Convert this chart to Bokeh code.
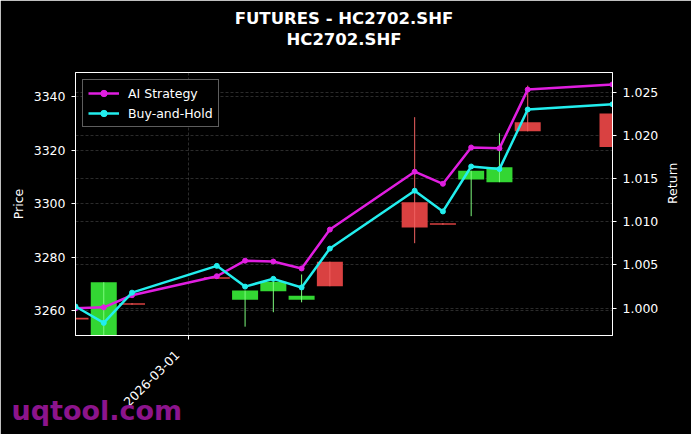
import math
import pandas as pd
from bokeh.plotting import figure
from bokeh.models import (ColumnDataSource, Range1d, LinearAxis, FixedTicker,
                          DatetimeTickFormatter, Grid, Title,
                          PrintfTickFormatter)
from bokeh.embed import file_html
from bokeh.resources import INLINE

# ---- data ----
dates = ["2026-02-25", "2026-02-26", "2026-02-27", "2026-03-02", "2026-03-03",
         "2026-03-04", "2026-03-05", "2026-03-06", "2026-03-09", "2026-03-10",
         "2026-03-11", "2026-03-12", "2026-03-13", "2026-03-16"]
open_p = [3257.3, 3249.0, 3262.8, 3272.5, 3264.1, 3267.2, 3264.1, 3278.3,
          3300.5, 3292.7, 3309.0, 3308.0, 3330.4, 3333.7]
close_p = [3256.7, 3270.6, 3262.2, 3271.9, 3267.5, 3270.8, 3265.6, 3269.1,
           3291.1, 3292.1, 3312.3, 3313.6, 3327.0, 3321.2]
high_p = [3257.3, 3270.6, 3262.8, 3272.5, 3267.5, 3271.0, 3273.5, 3278.3,
          3332.3, 3292.7, 3312.3, 3326.3, 3344.1, 3333.7]
low_p = [3256.7, 3247.0, 3262.2, 3271.9, 3254.0, 3259.4, 3263.1, 3269.1,
         3285.2, 3292.1, 3295.3, 3308.0, 3327.0, 3321.2]
ai_ret = [1.0000, 1.0001, 1.0015, 1.0037, 1.0055, 1.0054, 1.0046, 1.0091,
          1.0158, 1.0144, 1.0186, 1.0185, 1.0253, 1.0259]
bh_ret = [1.0002, 0.9983, 1.0018, 1.0049, 1.0025, 1.0034, 1.0024, 1.0069,
          1.0136, 1.0112, 1.0164, 1.0161, 1.0230, 1.0236]
price_ticks = [3260, 3280, 3300, 3320, 3340]
ret_ticks = [1.000, 1.005, 1.010, 1.015, 1.020, 1.025]
x_tick_dates = ["2026-03-01"]
title_lines = ["FUTURES - HC2702.SHF", "HC2702.SHF"]
watermark = "uqtool.com"

FONT = "DejaVu Sans"
dt = pd.to_datetime(dates)
inc = [c > o for o, c in zip(open_p, close_p)]
GREEN = "#33d633"
RED = "#d94141"
src = ColumnDataSource(dict(
    x=dt, top=[max(o, c) for o, c in zip(open_p, close_p)],
    bottom=[min(o, c) for o, c in zip(open_p, close_p)],
    high=high_p, low=low_p,
    fill=[GREEN if i else RED for i in inc],
    wick=["#7dfa7d" if i else "#f06060" for i in inc],
    ai=ai_ret, bh=bh_ret))

p = figure(width=691, height=434, x_axis_type="datetime",
           x_range=Range1d(dt[0], dt[-1]), y_range=Range1d(3250.7, 3349.0),
           output_backend="svg", toolbar_location=None,
           min_border_left=75, min_border_right=79, min_border_top=72,
           min_border_bottom=99)
p.extra_y_ranges = {"ret": Range1d(0.99684, 1.02728)}
p.background_fill_color = "black"
p.border_fill_color = "black"
p.outline_line_color = "white"
p.outline_line_width = 1

# candles
day_ms = 86400000
p.vbar(x="x", width=0.92 * day_ms, top="top", bottom="bottom", source=src,
       fill_color="fill", line_color=None)
p.segment(x0="x", x1="x", y0="low", y1="high", source=src, line_color="wick",
          line_width=1)

# return lines
p.line("x", "ai", source=src, y_range_name="ret", line_color="#e01ee0",
       line_width=2.5, legend_label="AI Strategy")
p.scatter("x", "ai", source=src, y_range_name="ret", fill_color="#e01ee0",
          line_color="#e01ee0", size=5, legend_label="AI Strategy")
p.line("x", "bh", source=src, y_range_name="ret", line_color="#22eeee",
       line_width=2.5, legend_label="Buy-and-Hold")
p.scatter("x", "bh", source=src, y_range_name="ret", fill_color="#22eeee",
          line_color="#22eeee", size=5, legend_label="Buy-and-Hold")

# axes
def style_axis(ax):
    ax.axis_line_color = "white"
    ax.major_tick_line_color = "white"
    ax.minor_tick_line_color = None
    ax.major_tick_out = 4
    ax.major_tick_in = 0
    ax.major_label_text_color = "white"
    ax.major_label_text_font = FONT
    ax.major_label_text_font_size = "12.5px"
    ax.axis_label_text_color = "white"
    ax.axis_label_text_font = FONT
    ax.axis_label_text_font_size = "12.5px"
    ax.axis_label_text_font_style = "normal"

yl = p.yaxis[0]
yl.ticker = FixedTicker(ticks=price_ticks)
yl.axis_label = "Price"
yl.major_label_standoff = 6
style_axis(yl)

yr = LinearAxis(y_range_name="ret", ticker=FixedTicker(ticks=ret_ticks),
                formatter=PrintfTickFormatter(format="%.3f"),
                axis_label="Return")
yr.major_label_standoff = 6
yr.axis_label_standoff = 11
yr.axis_label_orientation = math.pi / 2
style_axis(yr)
p.add_layout(yr, "right")

xa = p.xaxis[0]
xtick_ms = [pd.Timestamp(d).value // 10**6 for d in x_tick_dates]
xa.ticker = FixedTicker(ticks=xtick_ms)
fmt = "%Y-%m-%d"
xa.formatter = DatetimeTickFormatter(
    microseconds=fmt, milliseconds=fmt, seconds=fmt, minsec=fmt, minutes=fmt,
    hourmin=fmt, hours=fmt, days=fmt, months=fmt, years=fmt)
# trailing no-break spaces nudge the rotated label down-left like matplotlib
xa.major_label_overrides = {t: d + "\u00a0" * 4 for t, d in zip(xtick_ms, x_tick_dates)}
xa.major_label_orientation = math.pi / 4
xa.major_label_standoff = 2
style_axis(xa)

# grids
for g in p.grid:
    g.grid_line_color = "#9a9a9a"
    g.grid_line_alpha = 0.4
    g.grid_line_dash = "3 2"
    g.grid_line_width = 0.7
p.xgrid.ticker = xa.ticker
p.ygrid.ticker = yl.ticker
g2 = Grid(dimension=1, ticker=FixedTicker(ticks=ret_ticks), y_range_name="ret",
          grid_line_color="#9a9a9a", grid_line_alpha=0.4, grid_line_dash="3 2",
          grid_line_width=0.7)
p.add_layout(g2)

# legend
lg = p.legend[0]
lg.location = "top_left"
lg.margin = 7
lg.padding = 5
lg.spacing = 4
lg.glyph_width = 31
lg.glyph_height = 16
lg.label_height = 16
lg.label_standoff = 9
lg.background_fill_color = "black"
lg.background_fill_alpha = 1
lg.border_line_color = "#bbbbbb"
lg.border_line_width = 1
lg.label_text_color = "white"
lg.label_text_font = FONT
lg.label_text_font_size = "12.5px"

# titles: line 2 next to the frame, main title outermost
p.title.text = title_lines[0]
p.title.align = "center"
p.title.text_color = "white"
p.title.text_font = FONT
p.title.text_font_size = "16.5px"
p.title.text_font_style = "bold"
p.title.standoff = -48
p.add_layout(Title(text=title_lines[1], align="center", text_color="white",
                   text_font=FONT, text_font_size="16.5px",
                   text_font_style="bold", standoff=48), "above")

# watermark below the x axis
p.add_layout(Title(text=watermark, align="left", offset=-64,
                   vertical_align="top",
                   text_color="#8c148c", text_font=FONT,
                   text_font_size="27px", text_font_style="bold",
                   standoff=-45), "below")

open("out.html", "w").write(file_html(p, INLINE))
